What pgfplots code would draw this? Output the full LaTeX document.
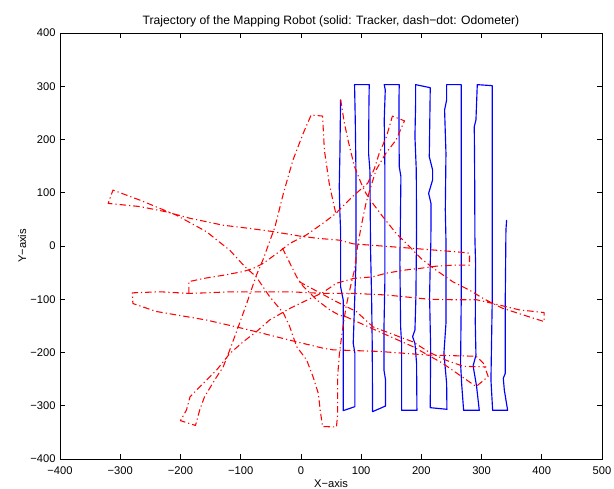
\documentclass[border=0pt]{standalone}
\usepackage{pgfplots}
\pgfplotsset{compat=1.18}
\usepackage{fontspec}
\setmainfont{Liberation Sans}
\newcommand{\tickfont}{\fontsize{11.2}{13}\selectfont}
\begin{document}
\begin{tikzpicture}
\begin{axis}[
  scale only axis, width=542bp, height=426bp,
  xmin=-400, xmax=500, ymin=-400, ymax=400,
  xtick={-400,-300,...,500}, ytick={-400,-300,...,400},
  xticklabels={−400,−300,−200,−100,0,100,200,300,400,500},
  yticklabels={−400,−300,−200,−100,0,100,200,300,400},
  tick align=inside, tick pos=both, major tick length=5.4bp,
  axis line style={line width=0.9bp},
  every tick/.style={black, line width=0.7bp},
  xticklabel style={font=\tickfont, inner sep=0pt, anchor=north, yshift=-7.5bp},
  yticklabel style={font=\tickfont, inner sep=0pt, anchor=east, xshift=-4.3bp},
  every axis title/.style={at={(axis description cs:0.5,1)}, anchor=base, yshift=8bp, font=\fontsize{12.2}{14}\selectfont, inner sep=0pt},
  title={Trajectory of the Mapping Robot (solid: Tracker, dash−dot: Odometer)},
  every axis x label/.style={at={(axis description cs:0.5,0)}, anchor=base, yshift=-29bp, font=\tickfont, inner sep=0pt},
  every axis y label/.style={at={(axis description cs:-0.0627,0.5)}, anchor=base, rotate=90, font=\tickfont, inner sep=0pt},
  xlabel={X−axis}, ylabel={Y−axis},
]
% Tracker (solid blue)
\addplot[blue, line width=1.15bp, line join=round] coordinates {
(65.9,274.2) (64.8,174) (63.7,111.4) (64.8,61.3) (65.9,30) (65.9,-76.4) (70.3,-101.4) (70.3,-220.4) (70.3,-309.2)
(89.7,-301.7) (89.7,-201.6) (86.9,-182.8) (91.4,-32.6) (91.4,142.7) (90.3,236.6) (89.1,303)
(113.5,303) (113,267.9) (112.4,174) (114.6,142.7) (115.7,-7.5) (117.4,-95.2) (118.5,-189) (119,-311.1)
(140.6,-300.5) (140.6,-251.6) (137.9,-232.9) (137.9,-157.8) (139.5,-63.9) (139.5,142.7) (138.4,236.6) (140.1,293) (138.4,303)
(163.3,303) (162.8,267.9) (163.3,149) (166.1,130.2) (164.4,-32.6) (165.6,-151.5) (167.2,-182.8) (167.2,-308.6)
(192.7,-308.6) (192.1,-220.4) (189.4,-182.8) (185.5,-170.3) (189.4,-157.8) (191,-95.2) (192.1,30) (191.6,142.7) (189.4,205.3) (190.5,267.9) (190.5,303)
(214.8,297.3) (214.3,255.4) (213.2,167.8) (218.7,142.7) (218.7,124) (212.1,98.9) (216,80.1) (215.9,11.2) (214.8,-32.6) (213.7,-95.2) (215.4,-189) (214.8,-303.6)
(242.5,-306.7) (242,-257.9) (237.5,-201.6) (240.9,-145.2) (240.9,-32.6) (240.9,11.2) (239.8,67.6) (240.9,174) (238.6,255.4) (242,274.2) (242,303)
(266.3,303) (266.3,11.2) (266.3,-95.2) (265.2,-220.4) (266.9,-257.9) (270.2,-308.6)
(296.2,-308.6) (291.8,-264.2) (286,-225) (290.7,-205) (289.6,-145.2) (290.1,-32.6) (289,11.2) (288.5,142.7) (287.9,224.1) (290.7,236.6) (292.9,303)
(317.8,301.1) (317.8,11.2) (317.8,-95.2) (315.6,-251.6) (318.4,-308.6)
(343.3,-308.6) (337.8,-270.4) (336.1,-248.5) (339.4,-239) (339.4,-95.2) (340.5,30) (341.6,48.8)
};
% Odometer (dash-dot red)
\addplot[red, line width=1.05bp, line join=round, dash pattern=on 6.5bp off 3bp on 1.2bp off 3bp] coordinates {
(65.9,275.4) (72,232) (79,195) (89,149) (100,118) (108,99) (120,79) (136,55) (158,24) (180,-1) (202,-26) (224,-45) (252,-67) (280,-83) (305,-100) (335,-117) (379,-133) (404,-142) (404,-125)
(363,-120) (319,-108) (292,-101) (253,-101) (213,-100) (142,-92) (87,-89) (36,-89) (-18,-86) (-74,-86) (-118,-86) (-157,-88) (-186,-89) (-234,-86) (-280,-88) (-279,-108)
(-240,-123) (-157,-139) (-107,-152) (-74,-161) (-18,-177) (37,-192) (53,-195) (130,-198) (213,-205) (291,-207) (303,-220) (311,-245) (291,-264)
(235,-220) (186,-189) (136,-164) (75,-133) (64,-130) (48,-120) (26,-101) (4,-76) (-7,-58) (-32,-1)
};
\addplot[red, line width=1.05bp, line join=round, dash pattern=on 6.5bp off 3bp on 1.2bp off 3bp] coordinates {
(-186,-89) (-186,-67) (-162,-61) (-129,-55) (-96,-48) (-79,-42) (-63,-33) (-40,-14) (-18,5) (9.5,21) (37,43) (58,61) (69,74) (86,93) (111,118) (122,145) (130,174) (142,205) (152,244) (172,235)
(158,199) (141,174) (125,143) (116,111) (108,80) (100,36) (94,-1) (89,-45) (83,-73) (75,-114) (69,-158) (64,-202) (61,-245) (61,-317) (59,-340) (36,-339)
(32,-308) (29,-277) (20,-245) (9.5,-214) (-7,-189) (-19,-150) (-29,-126) (-52,-95) (-74,-58) (-93,-39) (-118,-8) (-157,27) (-207,58) (-267,86) (-312,105) (-320,80)
(-267,74) (-223,64) (-184,52) (-129,39) (-85,33) (-46,27) (4,17.5) (32,14) (64,11) (87,4) (181,-4) (275,-12.5) (280,-14) (280,-36)
(253,-36) (224,-38) (198,-42) (174,-45) (142,-51) (119,-58) (87,-61) (59,-70) (37,-87) (4,-105) (-18,-117) (-52,-139) (-74,-161) (-96,-180) (-118,-202) (-140,-233) (-162,-258) (-184,-283) (-190,-308) (-200,-328) (-175,-337)
(-168,-308) (-160,-283) (-140,-246) (-129,-227) (-118,-195) (-104,-152) (-90,-108) (-74,-55) (-63,-26) (-43,36) (-29,99) (-13,162) (4,212) (17,246) (36,244)
(39,180) (47,118) (53,86) (58,61)
};
\addplot[red, line width=1.05bp, line join=round, dash pattern=on 6.5bp off 3bp on 1.2bp off 3bp] coordinates {
(-3,-67) (58,-104) (92,-123) (120,-152) (186,-180) (214,-200) (242,-215) (270,-226) (308,-227)
};
\end{axis}
\pgfresetboundingbox
\path[use as bounding box] ([xshift=-60bp,yshift=-30bp]current axis.south west) rectangle ([xshift=12bp,yshift=33bp]current axis.north east);
\end{tikzpicture}
\end{document}
